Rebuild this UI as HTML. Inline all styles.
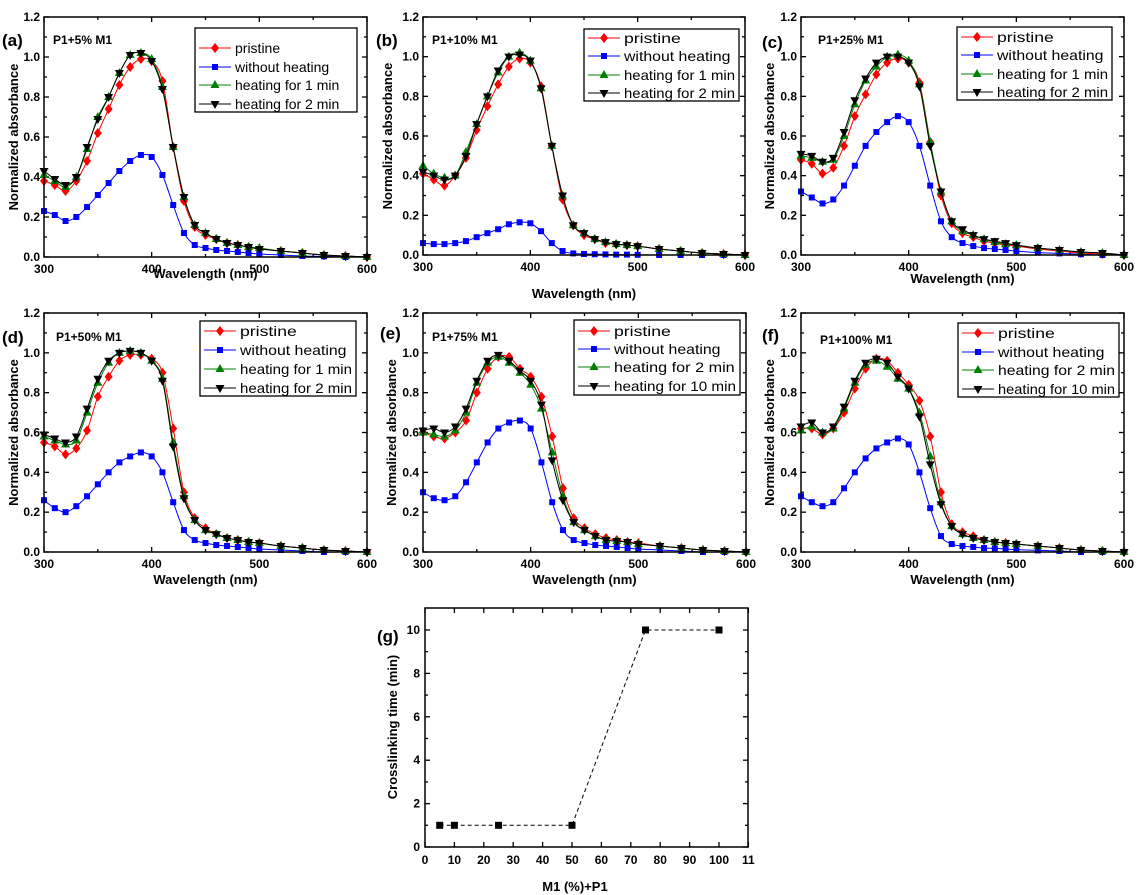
<!DOCTYPE html>
<html><head><meta charset="utf-8"><style>
body{margin:0;background:#fff}
svg{display:block;font-family:"Liberation Sans",Arial,sans-serif}
.tk{font-size:12px;font-weight:bold}
.ax{font-size:13px;font-weight:bold}
.lg{font-size:14px}
</style></head><body>
<svg id="fig" width="1139" height="895" viewBox="0 0 1139 895"></svg>
<script>
const wl=[300,310,320,330,340,350,360,370,380,390,400,410,420,430,440,450,460,470,480,490,500,520,540,560,580,600];
const aPri=[0.38,0.36,0.33,0.38,0.48,0.62,0.74,0.86,0.95,0.99,0.98,0.88,0.55,0.28,0.15,0.11,0.09,0.07,0.06,0.05,0.04,0.03,0.02,0.01,0.005,0];
const aWo=[0.23,0.21,0.18,0.20,0.25,0.31,0.37,0.43,0.48,0.51,0.50,0.41,0.26,0.12,0.06,0.045,0.035,0.03,0.025,0.02,0.015,0.01,0.005,0.003,0,0];
const aH1=[0.41,0.38,0.35,0.40,0.54,0.70,0.80,0.92,1.01,1.02,0.99,0.85,0.55,0.30,0.16,0.12,0.09,0.07,0.06,0.05,0.045,0.03,0.02,0.01,0.005,0];
const aH2=[0.43,0.39,0.36,0.40,0.55,0.69,0.80,0.92,1.01,1.02,0.98,0.84,0.55,0.30,0.16,0.12,0.09,0.07,0.06,0.05,0.04,0.03,0.02,0.01,0.005,0];
const bPri=[0.41,0.38,0.35,0.40,0.49,0.63,0.75,0.86,0.95,0.99,0.97,0.85,0.55,0.28,0.15,0.10,0.08,0.06,0.055,0.05,0.045,0.03,0.02,0.01,0.005,0];
const bWo=[0.06,0.055,0.055,0.06,0.07,0.09,0.11,0.13,0.155,0.165,0.16,0.12,0.06,0.02,0.008,0.005,0.004,0.003,0.002,0.002,0.001,0,0,0,0,0];
const bH1=[0.45,0.41,0.39,0.40,0.52,0.66,0.80,0.92,1.00,1.02,0.98,0.84,0.55,0.30,0.15,0.11,0.08,0.065,0.055,0.05,0.045,0.03,0.02,0.01,0.005,0];
const bH2=[0.42,0.40,0.38,0.40,0.50,0.66,0.80,0.93,1.00,1.01,0.98,0.84,0.55,0.30,0.15,0.11,0.08,0.065,0.055,0.05,0.045,0.03,0.02,0.01,0.005,0];
const cPri=[0.48,0.46,0.41,0.44,0.55,0.70,0.81,0.91,0.97,0.99,0.97,0.87,0.57,0.30,0.16,0.11,0.09,0.07,0.06,0.05,0.045,0.03,0.02,0.01,0.005,0];
const cWo=[0.32,0.29,0.26,0.28,0.35,0.45,0.55,0.62,0.67,0.70,0.67,0.55,0.35,0.17,0.09,0.06,0.045,0.035,0.03,0.025,0.02,0.012,0.008,0.004,0,0];
const cH1=[0.50,0.49,0.47,0.48,0.60,0.76,0.88,0.95,1.00,1.01,0.98,0.86,0.57,0.32,0.17,0.12,0.10,0.08,0.065,0.055,0.05,0.035,0.025,0.015,0.01,0];
const cH2=[0.51,0.50,0.47,0.49,0.62,0.78,0.89,0.97,1.00,1.00,0.97,0.85,0.55,0.32,0.17,0.13,0.10,0.08,0.07,0.06,0.05,0.035,0.025,0.015,0.01,0];
const dPri=[0.55,0.53,0.49,0.52,0.61,0.78,0.88,0.96,0.99,0.99,0.97,0.90,0.62,0.30,0.17,0.12,0.09,0.07,0.06,0.05,0.045,0.03,0.02,0.01,0.005,0];
const dWo=[0.26,0.22,0.20,0.23,0.28,0.34,0.40,0.45,0.48,0.50,0.48,0.40,0.25,0.11,0.06,0.045,0.035,0.03,0.025,0.02,0.015,0.01,0.005,0,0,0];
const dH1=[0.58,0.56,0.54,0.56,0.70,0.85,0.95,1.00,1.01,1.00,0.96,0.87,0.55,0.28,0.16,0.11,0.09,0.07,0.06,0.05,0.045,0.03,0.02,0.01,0.005,0];
const dH2=[0.59,0.57,0.55,0.58,0.72,0.87,0.96,1.00,1.01,1.00,0.96,0.86,0.53,0.27,0.16,0.11,0.09,0.07,0.06,0.05,0.045,0.03,0.02,0.01,0.005,0];
const ePri=[0.60,0.58,0.57,0.60,0.66,0.80,0.92,0.98,0.98,0.92,0.88,0.78,0.58,0.32,0.17,0.12,0.09,0.07,0.06,0.05,0.045,0.03,0.02,0.01,0.005,0];
const eWo=[0.30,0.27,0.26,0.28,0.35,0.45,0.55,0.62,0.65,0.66,0.62,0.45,0.25,0.11,0.06,0.045,0.035,0.03,0.025,0.02,0.015,0.01,0.005,0,0,0];
const eH1=[0.60,0.59,0.58,0.61,0.70,0.85,0.95,0.98,0.95,0.90,0.84,0.72,0.50,0.28,0.15,0.11,0.08,0.06,0.055,0.05,0.04,0.03,0.02,0.01,0.005,0];
const eH2=[0.61,0.62,0.60,0.63,0.72,0.86,0.96,0.99,0.96,0.91,0.86,0.74,0.46,0.26,0.15,0.11,0.08,0.06,0.055,0.05,0.04,0.03,0.02,0.01,0.005,0];
const fPri=[0.62,0.62,0.59,0.62,0.70,0.82,0.92,0.97,0.96,0.90,0.84,0.76,0.58,0.30,0.14,0.10,0.08,0.06,0.05,0.045,0.04,0.03,0.02,0.01,0.005,0];
const fWo=[0.28,0.25,0.23,0.25,0.32,0.40,0.47,0.52,0.55,0.57,0.54,0.40,0.22,0.08,0.04,0.03,0.025,0.02,0.018,0.015,0.012,0.008,0.005,0,0,0];
const fH1=[0.61,0.63,0.60,0.62,0.72,0.85,0.94,0.96,0.93,0.87,0.82,0.70,0.48,0.25,0.13,0.09,0.07,0.06,0.05,0.045,0.04,0.03,0.02,0.01,0.005,0];
const fH2=[0.63,0.65,0.60,0.63,0.73,0.86,0.95,0.97,0.95,0.88,0.82,0.68,0.44,0.24,0.13,0.09,0.07,0.06,0.05,0.045,0.04,0.03,0.02,0.01,0.005,0];
const gX=[5,10,25,50,75,100];
const gY=[1,1,1,1,10,10];
const yTicks=["0.0","0.2","0.4","0.6","0.8","1.0","1.2"];
const xTicks=["300","400","500","600"];
const gXTicks=["0","10","20","30","40","50","60","70","80","90","100","11"];
const gYTicks=["0","2","4","6","8","10"];

const NS="http://www.w3.org/2000/svg";
const svg=document.getElementById('fig');
function el(tag,attrs,parent,txt){const e=document.createElementNS(NS,tag);for(const k in attrs)e.setAttribute(k,attrs[k]);if(txt!==undefined)e.textContent=txt;(parent||svg).appendChild(e);return e;}
function smooth(pts){let d=`M${pts[0][0]},${pts[0][1]}`;for(let i=0;i<pts.length-1;i++){const p0=pts[Math.max(0,i-1)],p1=pts[i],p2=pts[i+1],p3=pts[Math.min(pts.length-1,i+2)];d+=` C${p1[0]+(p2[0]-p0[0])/6},${p1[1]+(p2[1]-p0[1])/6} ${p2[0]-(p3[0]-p1[0])/6},${p2[1]-(p3[1]-p1[1])/6} ${p2[0]},${p2[1]}`;}return d;}
function marker(g,type,x,y,col){
  if(type==='d') return el('polygon',{points:`${x},${y-5} ${x+4},${y} ${x},${y+5} ${x-4},${y}`,fill:col},g);
  if(type==='s') return el('rect',{x:x-3,y:y-3,width:6,height:6,fill:col},g);
  if(type==='u') return el('polygon',{points:`${x},${y-5} ${x+4.5},${y+3} ${x-4.5},${y+3}`,fill:col},g);
  return el('polygon',{points:`${x-4.5},${y-3} ${x+4.5},${y-3} ${x},${y+5}`,fill:col},g);
}
const styles=[['#ff0000','d'],['#0000ff','s'],['#008000','u'],['#000000','v']];
const panels=[
 {id:'a',L:44,R:367,T:17,B:257,series:[aPri,aWo,aH1,aH2],names:['pristine','without heating','heating for 1 min','heating for 2 min'],title:'P1+5% M1',tx:53,ty:40,lx:2,ly:40,leg:[195,28,357,112],rows:[48,67,85,104],narrow:false,yl:14,xl:273},
 {id:'b',L:423,R:745,T:17,B:255,series:[bPri,bWo,bH1,bH2],names:['pristine','without heating','heating for 1 min','heating for 2 min'],title:'P1+10% M1',tx:432,ty:40,lx:376,ly:40,leg:[584,29,739,101],rows:[38,56,75,93],narrow:true,yl:388,xl:293},
 {id:'c',L:801,R:1124,T:17,B:255,series:[cPri,cWo,cH1,cH2],names:['pristine','without heating','heating for 1 min','heating for 2 min'],title:'P1+25% M1',tx:818,ty:40,lx:762,ly:42,leg:[957,27,1112,100],rows:[37,55,74,92],narrow:true,yl:770,xl:278},
 {id:'d',L:44,R:367,T:313,B:552,series:[dPri,dWo,dH1,dH2],names:['pristine','without heating','heating for 1 min','heating for 2 min'],title:'P1+50% M1',tx:56,ty:337,lx:2,ly:337,leg:[200,321,356,396],rows:[331,350,369,388],narrow:true,yl:14,xl:579},
 {id:'e',L:423,R:746,T:313,B:552,series:[ePri,eWo,eH1,eH2],names:['pristine','without heating','heating for 2 min','heating for 10 min'],title:'P1+75% M1',tx:432,ty:337,lx:380,ly:333,leg:[574,320,740,395],rows:[331,349,367,386],narrow:true,yl:392,xl:579},
 {id:'f',L:801,R:1124,T:313,B:552,series:[fPri,fWo,fH1,fH2],names:['pristine','without heating','heating for 2 min','heating for 10 min'],title:'P1+100% M1',tx:820,ty:340,lx:762,ly:335,leg:[958,323,1119,397],rows:[333,352,370,389],narrow:true,yl:770,xl:579}
];
const snames=['pristine','without-heating','heating-short','heating-long'];
panels.forEach(p=>{
  const g=el('g',{});
  
  
  const sx=v=>p.L+(v-300)/300*(p.R-p.L);
  const sy=v=>p.B-v/1.2*(p.B-p.T);
  // ticks
  for(let i=0;i<=12;i++){const y=sy(i*0.1),len=i%2?3:5;
    el('line',{x1:p.L,y1:y,x2:p.L+len,y2:y,stroke:'#000','stroke-width':1.3},g);
    el('line',{x1:p.R,y1:y,x2:p.R-len,y2:y,stroke:'#000','stroke-width':1.3},g);}
  for(let v=300;v<=600;v+=50){const x=sx(v),len=v%100?3:5;
    el('line',{x1:x,y1:p.B,x2:x,y2:p.B-len,stroke:'#000','stroke-width':1.3},g);
    el('line',{x1:x,y1:p.T,x2:x,y2:p.T+len,stroke:'#000','stroke-width':1.3},g);}
  yTicks.forEach((t,i)=>{const e=el('text',{x:p.L-4,y:sy(i*0.2)+4,'text-anchor':'end',class:'tk'},g,t);
    
    });
  xTicks.forEach((t,i)=>{const e=el('text',{x:sx(300+i*100),y:p.B+16,'text-anchor':'middle',class:'tk'},g,t);
    
    });
  const yt=el('text',{x:p.yl,y:(p.T+p.B)/2,'text-anchor':'middle',class:'ax',transform:`rotate(-90 ${p.yl} ${(p.T+p.B)/2})`,dy:4},g,'Normalized absorbance');
  
  
  const xt=el('text',{x:(p.L+p.R)/2,y:p.xl+5,'text-anchor':'middle',class:'ax'},g,'Wavelength (nm)');
  
  
  const pl=el('text',{x:p.lx,y:p.ly+6,style:'font-size:17px;font-weight:bold'},g,'('+p.id+')');
  
  
  const ti=el('text',{x:p.tx,y:p.ty+4,style:'font-size:12px;font-weight:bold'},g,p.title);
  
  
  // series
  p.series.forEach((s,k)=>{const [col,m]=styles[k];
    const sg=el('g',{},g);
    
    
    const pts=wl.map((w,i)=>[sx(w),sy(s[i])]);
    el('path',{d:smooth(pts),fill:'none',stroke:col,'stroke-width':1},sg);
    pts.forEach(q=>marker(sg,m,q[0],q[1],col));});
  // frame
  el('rect',{x:p.L,y:p.T,width:p.R-p.L,height:p.B-p.T,fill:'none',stroke:'#000','stroke-width':1.5},g);
  // legend
  const [x1,y1,x2,y2]=p.leg;
  const lg=el('g',{},g);
  
  
  el('rect',{x:x1,y:y1,width:x2-x1,height:y2-y1,fill:'#fff',stroke:'#000','stroke-width':1.3},lg);
  p.names.forEach((n,k)=>{const [col,m]=styles[k];const y=p.rows[k];
    el('line',{x1:x1+4,y1:y,x2:x1+36,y2:y,stroke:col,'stroke-width':1},lg);
    marker(lg,m,x1+20,y,col);
    const a={x:x1+40,y:y+5,class:'lg'};
    if(p.narrow){a.textLength=Math.min(x2-x1-44,n.length*7.1);a.lengthAdjust='spacingAndGlyphs';}
    const t=el('text',a,lg,n);
    
    });
});
// panel g
(function(){
  const L=425,R=748,T=608,B=847;
  const g=el('g',{});
  
  
  const sx=v=>L+v*2.94;
  const sy=v=>B-v*21.7;
  for(let v=0;v<=110;v+=10){const x=sx(v);
    el('line',{x1:x,y1:B,x2:x,y2:B-5,stroke:'#000','stroke-width':1.3},g);
    el('line',{x1:x,y1:T,x2:x,y2:T+5,stroke:'#000','stroke-width':1.3},g);}
  for(let v=0;v<=10;v+=1){const y=sy(v),len=v%2?3:5;
    el('line',{x1:L,y1:y,x2:L+len,y2:y,stroke:'#000','stroke-width':1.3},g);
    el('line',{x1:R,y1:y,x2:R-len,y2:y,stroke:'#000','stroke-width':1.3},g);}
  gXTicks.forEach((t,i)=>{const e=el('text',{x:sx(i*10),y:B+17,'text-anchor':'middle',class:'tk'},g,t);
    
    });
  gYTicks.forEach((t,i)=>{const e=el('text',{x:L-5,y:sy(i*2)+4,'text-anchor':'end',class:'tk'},g,t);
    
    });
  const pts=gX.map((x,i)=>[sx(x),sy(gY[i])]);
  el('polyline',{points:pts.map(q=>q.join(',')).join(' '),fill:'none',stroke:'#000','stroke-width':1,'stroke-dasharray':'4,3'},g);
  pts.forEach(q=>{const r=el('rect',{x:q[0]-3.5,y:q[1]-3.5,width:7,height:7,fill:'#000'},g);
    
    });
  el('rect',{x:L,y:T,width:R-L,height:B-T,fill:'none',stroke:'#000','stroke-width':1.5},g);
  const yt=el('text',{x:397,y:727,'text-anchor':'middle',class:'ax',transform:'rotate(-90 397 727)'},g,'Crosslinking time (min)');
  
  
  const xt=el('text',{x:575,y:891,'text-anchor':'middle',class:'ax'},g,'M1 (%)+P1');
  
  
  const pl=el('text',{x:377,y:642,style:'font-size:17px;font-weight:bold'},g,'(g)');
  
  
})();
</script>
</body></html>
